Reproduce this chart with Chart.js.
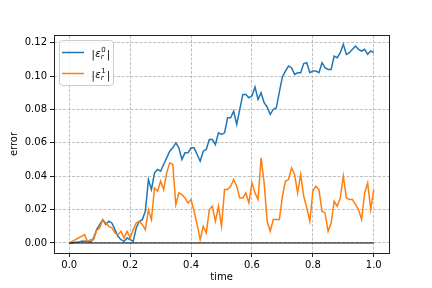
<!DOCTYPE html>
<html>
<head>
<meta charset="utf-8">
<script src="https://cdn.jsdelivr.net/npm/chart.js@4/dist/chart.umd.min.js"></script>
<style>
  html, body { margin: 0; padding: 0; background: #fff; }
  #chart { display: block; }
</style>
</head>
<body>
<canvas id="chart" width="432" height="288"></canvas>
<script>
// time samples
const times = [
  0.00, 0.01, 0.02, 0.03, 0.04, 0.05, 0.06, 0.07, 0.08, 0.09,
  0.10, 0.11, 0.12, 0.13, 0.14, 0.15, 0.16, 0.17, 0.18, 0.19,
  0.20, 0.21, 0.22, 0.23, 0.24, 0.25, 0.26, 0.27, 0.28, 0.29,
  0.30, 0.31, 0.32, 0.33, 0.34, 0.35, 0.36, 0.37, 0.38, 0.39,
  0.40, 0.41, 0.42, 0.43, 0.44, 0.45, 0.46, 0.47, 0.48, 0.49,
  0.50, 0.51, 0.52, 0.53, 0.54, 0.55, 0.56, 0.57, 0.58, 0.59,
  0.60, 0.61, 0.62, 0.63, 0.64, 0.65, 0.66, 0.67, 0.68, 0.69,
  0.70, 0.71, 0.72, 0.73, 0.74, 0.75, 0.76, 0.77, 0.78, 0.79,
  0.80, 0.81, 0.82, 0.83, 0.84, 0.85, 0.86, 0.87, 0.88, 0.89,
  0.90, 0.91, 0.92, 0.93, 0.94, 0.95, 0.96, 0.97, 0.98, 0.99,
  1.00
];

// |eps_r^0|
const err0 = [
  0.000, 0.000, 0.0005, 0.0005, 0.001, 0.001, 0.001, 0.0005, 0.003, 0.008,
  0.011, 0.014, 0.011, 0.013, 0.012, 0.008, 0.004, 0.002, 0.001, 0.003,
  0.002, 0.001, 0.009, 0.013, 0.014, 0.019, 0.038, 0.032, 0.042, 0.044,
  0.043, 0.047, 0.051, 0.055, 0.057, 0.060, 0.057, 0.050, 0.054, 0.054,
  0.057, 0.057, 0.053, 0.049, 0.055, 0.056, 0.062, 0.062, 0.059, 0.066,
  0.065, 0.066, 0.075, 0.075, 0.079, 0.071, 0.080, 0.089, 0.089, 0.087,
  0.088, 0.0935, 0.086, 0.090, 0.084, 0.0815, 0.077, 0.080, 0.081, 0.0905,
  0.0995, 0.103, 0.106, 0.105, 0.101, 0.102, 0.102, 0.1075, 0.108, 0.102,
  0.103, 0.103, 0.102, 0.108, 0.105, 0.104, 0.104, 0.112, 0.111, 0.114,
  0.119, 0.113, 0.114, 0.116, 0.118, 0.116, 0.115, 0.116, 0.113, 0.115,
  0.114
];

// |eps_r^1|
const err1 = [
  0.000, 0.001, 0.002, 0.003, 0.004, 0.005, 0.001, 0.002, 0.002, 0.0075,
  0.009, 0.014, 0.012, 0.010, 0.009, 0.006, 0.005, 0.007, 0.003, 0.007,
  0.003, 0.008, 0.012, 0.013, 0.011, 0.008, 0.020, 0.014, 0.033, 0.031,
  0.037, 0.032, 0.042, 0.048, 0.047, 0.023, 0.030, 0.029, 0.027, 0.024,
  0.026, 0.019, 0.011, 0.002, 0.010, 0.006, 0.020, 0.022, 0.013, 0.022,
  0.010, 0.032, 0.032, 0.034, 0.038, 0.034, 0.027, 0.027, 0.030, 0.024,
  0.036, 0.030, 0.026, 0.051, 0.036, 0.013, 0.007, 0.014, 0.014, 0.014,
  0.028, 0.037, 0.038, 0.045, 0.041, 0.030, 0.041, 0.028, 0.021, 0.013,
  0.031, 0.034, 0.032, 0.019, 0.018, 0.007, 0.012, 0.025, 0.022, 0.027,
  0.040, 0.027, 0.026, 0.026, 0.023, 0.020, 0.014, 0.030, 0.036, 0.020,
  0.032
];

// reference line at zero
const zeroX = [0, 1];
const zeroY = [0, 0];

const xTicks = [0.0, 0.2, 0.4, 0.6, 0.8, 1.0];
const yTicks = [0.00, 0.02, 0.04, 0.06, 0.08, 0.10, 0.12];
const legendSup = ['0', '1'];

const blue = '#1f77b4';
const orange = '#ff7f0e';
const FONT = 'DejaVu Sans';

Chart.defaults.font.family = FONT;
Chart.defaults.font.size = 10;
Chart.defaults.color = '#000';

const toPoints = (xs, ys) => xs.map((x, i) => ({ x: x, y: ys[i] }));

// matplotlib-like frame round the axes
const framePlugin = {
    id: 'frame',
    afterDatasetsDraw(chart) {
        const { ctx, chartArea: a } = chart;
        ctx.save();
        ctx.strokeStyle = '#222';
        ctx.lineWidth = 1;
        ctx.strokeRect(Math.round(a.left) + 0.5, Math.round(a.top) + 0.5,
            Math.round(a.right - a.left), Math.round(a.bottom - a.top));
        ctx.restore();
    },
};

// legend box in the upper left, with math-style labels
const legendPlugin = {
    id: 'mathLegend',
    afterDraw(chart) {
        const { ctx, chartArea: a } = chart;
        const bx = a.left + 5.5, by = a.top + 5.5, bw = 54, bh = 45;
        ctx.save();
        ctx.beginPath();
        ctx.roundRect(bx, by, bw, bh, 3);
        ctx.fillStyle = 'rgba(255,255,255,0.8)';
        ctx.fill();
        ctx.strokeStyle = '#cccccc';
        ctx.lineWidth = 1;
        ctx.stroke();

        const colors = [blue, orange];
        legendSup.forEach((sup, i) => {
            const ly = by + 12 + i * 21;
            ctx.strokeStyle = colors[i];
            ctx.lineWidth = 1.5;
            ctx.beginPath();
            ctx.moveTo(bx + 2.5, ly);
            ctx.lineTo(bx + 24.5, ly);
            ctx.stroke();

            let tx = bx + 32;
            const base = ly + 4;
            ctx.fillStyle = '#000';
            ctx.textBaseline = 'alphabetic';
            ctx.font = `10px "${FONT}"`;
            ctx.fillText('|', tx, base + 1);
            tx += ctx.measureText('|').width + 0.5;
            ctx.font = `italic 10px "${FONT}"`;
            ctx.fillText('ε', tx, base);
            tx += ctx.measureText('ε').width;
            ctx.font = `7px "${FONT}"`;
            ctx.fillText(sup, tx + 0.5, base - 4.5);
            const supW = ctx.measureText(sup).width;
            ctx.font = `italic 7px "${FONT}"`;
            ctx.fillText('r', tx, base + 2.5);
            const subW = ctx.measureText('r').width;
            tx += Math.max(supW, subW) + 1.5;
            ctx.font = `10px "${FONT}"`;
            ctx.fillText('|', tx, base + 1);
        });
        ctx.restore();
    },
};

const gridStyle = {
    color: '#b0b0b0',
    lineWidth: 0.8,
    tickLength: 4,
    tickColor: '#222',
    tickWidth: 1,
    tickBorderDash: [],
};

new Chart(document.getElementById('chart'), {
    type: 'line',
    data: {
        datasets: [
            {
                label: '|ε_r^0|',
                data: toPoints(times, err0),
                borderColor: blue,
                borderWidth: 1.5,
                pointRadius: 0,
                tension: 0,
                fill: false,
                order: 3,
            },
            {
                label: '|ε_r^1|',
                data: toPoints(times, err1),
                borderColor: orange,
                borderWidth: 1.5,
                pointRadius: 0,
                tension: 0,
                fill: false,
                order: 2,
            },
            {
                label: 'zero',
                data: toPoints(zeroX, zeroY),
                borderColor: '#000',
                borderWidth: 1,
                pointRadius: 0,
                fill: false,
                order: 1,
            },
        ],
    },
    options: {
        responsive: false,
        animation: false,
        devicePixelRatio: 1,
        layout: { padding: { left: 0, right: 43, top: 35, bottom: 0 } },
        scales: {
            x: {
                type: 'linear',
                min: -0.05,
                max: 1.05,
                afterBuildTicks: (s) => { s.ticks = xTicks.map(v => ({ value: v })); },
                afterFit: (s) => { s.height = 35; },
                ticks: {
                    callback: (v) => Number(v).toFixed(1),
                    padding: 2,
                    maxRotation: 0,
                    autoSkip: false,
                },
                grid: gridStyle,
                border: { display: false, dash: [3, 1.5] },
                title: { display: true, text: 'time', padding: { top: 0, bottom: 5 } },
            },
            y: {
                type: 'linear',
                min: -0.006,
                max: 0.1246,
                afterBuildTicks: (s) => { s.ticks = yTicks.map(v => ({ value: v })); },
                afterFit: (s) => { s.width = 54; },
                ticks: {
                    callback: (v) => Number(v).toFixed(2),
                    padding: 3,
                    autoSkip: false,
                },
                grid: gridStyle,
                border: { display: false, dash: [3, 1.5] },
                title: { display: true, text: 'error', padding: { top: 8, bottom: 0 } },
            },
        },
        plugins: {
            legend: { display: false },
            tooltip: { enabled: false },
        },
    },
    plugins: [framePlugin, legendPlugin],
});
</script>
</body>
</html>
